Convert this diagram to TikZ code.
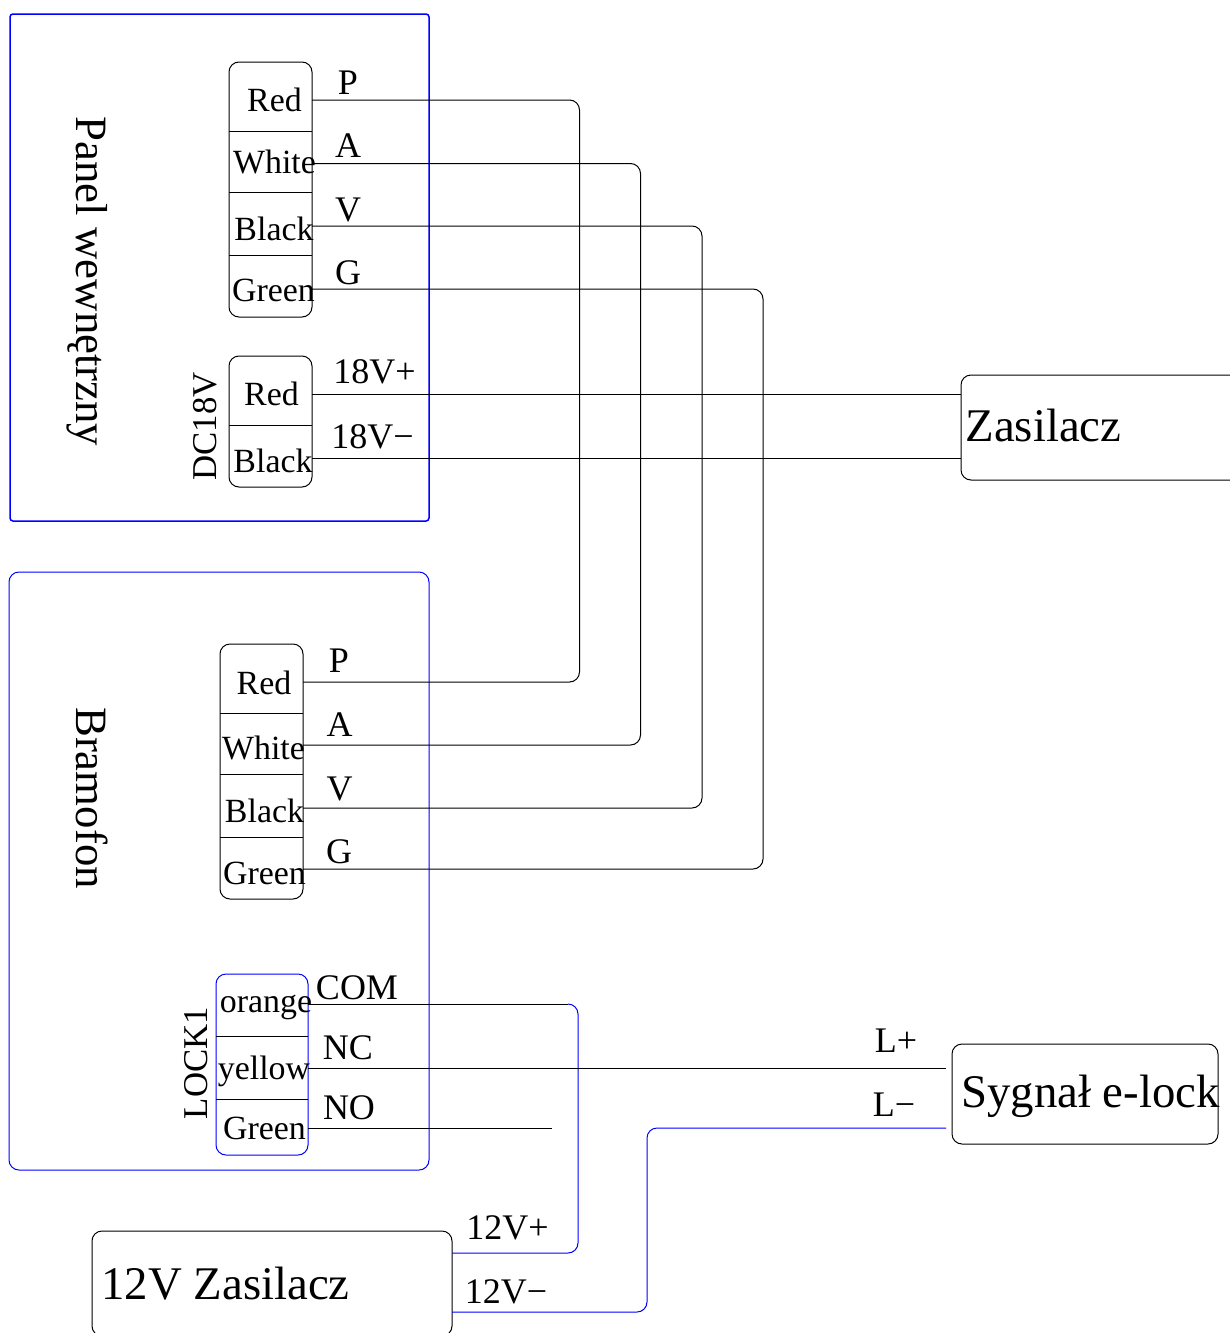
\documentclass[tikz,border=0pt]{standalone}
\usepackage{fontspec}
\setmainfont{Liberation Serif}
\definecolor{wblue}{RGB}{0,0,255}
\tikzset{
  x=1pt,y=-1pt,
  frameA/.style={draw=wblue,line width=1.5pt,rounded corners=3pt,inner sep=0pt,outer sep=0pt},
  frameB/.style={draw=wblue,line width=1pt,rounded corners=10pt,inner sep=0pt,outer sep=0pt},
  conbox/.style={draw=black,line width=1pt,rounded corners=10pt,inner sep=0pt,outer sep=0pt},
  pin/.style={inner sep=0pt,outer sep=0pt,minimum height=1pt},
  wire/.style={draw=black,line width=1pt,rounded corners=10pt},
  bwire/.style={draw=wblue,line width=1pt,rounded corners=10pt},
  sep/.style={draw=black,line width=1pt},
  lab/.style={inner sep=0pt,outer sep=0pt,anchor=base,font=\fontsize{33.9}{36}\selectfont},
  sig/.style={lab,font=\fontsize{36}{38}\selectfont},
  big/.style={lab,font=\fontsize{46.8}{50}\selectfont},
  side/.style={lab,font=\fontsize{44.8}{48}\selectfont,rotate=-90},
  vert/.style={lab,font=\fontsize{34.8}{38}\selectfont,rotate=90},
}
\begin{document}
\begin{tikzpicture}
\useasboundingbox (0,0) rectangle (1230,1333);
\clip (0,0) rectangle (1230,1333);
% frames
\node[frameA,minimum width=419pt,minimum height=507pt] (panel) at (219.5,267.5) {};
\node[frameB,minimum width=420pt,minimum height=598pt] (bram) at (219,871) {};
% terminal blocks
\node[conbox,minimum width=83pt,minimum height=255pt] (pblock) at (270.5,189.5) {};
\node[conbox,minimum width=83pt,minimum height=131pt] (dcblock) at (270.5,421.5) {};
\node[conbox,minimum width=83pt,minimum height=255pt] (bblock) at (261.5,771.5) {};
\node[frameB,minimum width=92pt,minimum height=181pt] (lblock) at (262,1064.5) {};
% external boxes
\node[conbox,minimum width=300pt,minimum height=105pt] (zas) at (1111,427.5) {};
\node[conbox,minimum width=266pt,minimum height=100pt] (sygn) at (1085,1094) {};
\node[conbox,minimum width=360pt,minimum height=105pt] (z12) at (272,1283.5) {};
% separators
\foreach \yy in {131,192,255} \draw[sep] (229,\yy) -- (312,\yy);
\draw[sep] (229,425) -- (312,425);
\foreach \yy in {713,774,837} \draw[sep] (220,\yy) -- (303,\yy);
\foreach \yy in {1036,1099} \draw[sep] (216,\yy) -- (308,\yy);
% pins
\foreach \nm/\yy in {pP/100,pA/163.5,pV/226,pG/289,dP/394.5,dM/458}
  \node[pin,minimum width=83pt] (\nm) at (270.5,\yy) {};
\foreach \nm/\yy in {bP/682,bA/745,bV/808,bG/869}
  \node[pin,minimum width=83pt] (\nm) at (261.5,\yy) {};
\foreach \nm/\yy in {lC/1004,lN/1068,lO/1128}
  \node[pin,minimum width=92pt] (\nm) at (262,\yy) {};
% free ends and routing points
\coordinate (rP) at (579.5,100);
\coordinate (rA) at (640.5,163.5);
\coordinate (rV) at (702,226);
\coordinate (rG) at (763,289);
\coordinate (comEnd) at (568,1004);
\coordinate (comCorner) at (578,1004);
\coordinate (z12p) at (452,1253);
\coordinate (z12m) at (452,1312);
\coordinate (lockRise) at (647,1128);
\coordinate (noEnd) at (552,1128);
\coordinate (lpEnd) at (946,1068);
\coordinate (lmEnd) at (946,1128);
% connectors
\draw[wire] (pP.east) -- (rP) -- (rP |- bP.east) -- (bP.east);
\draw[wire] (pA.east) -- (rA) -- (rA |- bA.east) -- (bA.east);
\draw[wire] (pV.east) -- (rV) -- (rV |- bV.east) -- (bV.east);
\draw[wire] (pG.east) -- (rG) -- (rG |- bG.east) -- (bG.east);
\draw[wire] (dP.east) -- (dP.east -| zas.west);
\draw[wire] (dM.east) -- (dM.east -| zas.west);
\draw[wire] (lC.east) -- (comEnd);
\draw[bwire] (comEnd) -- (comCorner) -- (comCorner |- z12p) -- (z12p);
\draw[wire] (lN.east) -- (lpEnd);
\draw[wire] (lO.east) -- (noEnd);
\draw[bwire] (z12m) -- (lockRise |- z12m) -- (lockRise) -- (lmEnd);
% labels
\node[side] (tPanel) at (76,281.5) {Panel wewnętrzny};
\node[side] (tBram) at (76,798) {Bramofon};
\node[vert] (tDC) at (216,426.5) {DC18V};
\node[vert] (tLock) at (207,1063) {LOCK1};
\node[lab] (t1) at (274.5,111.5) {Red};
\node[lab] (t2) at (274.5,173.5) {White};
\node[lab] (t3) at (274,240.5) {Black};
\node[lab] (t4) at (273.5,301) {Green};
\node[lab] (t5) at (271.5,405.5) {Red};
\node[lab] (t6) at (273,472.5) {Black};
\node[lab] (t7) at (264,694.5) {Red};
\node[lab] (t8) at (263.5,759.5) {White};
\node[lab] (t9) at (264.5,822.5) {Black};
\node[lab] (t10) at (264.5,884) {Green};
\node[lab] (t11) at (266,1012.5) {orange};
\node[lab] (t12) at (264,1079) {yellow};
\node[lab] (t13) at (264.5,1139) {Green};
\node[sig] (s1) at (348,94) {P};
\node[sig] (s2) at (348,157.5) {A};
\node[sig] (s3) at (348,221) {V};
\node[sig] (s4) at (348,284) {G};
\node[sig] (s5) at (374.5,383.5) {18V+};
\node[sig] (s6) at (372.5,448) {18V−};
\node[sig] (s7) at (339,672) {P};
\node[sig] (s8) at (339.5,736) {A};
\node[sig] (s9) at (339.5,800) {V};
\node[sig] (s10) at (339,863) {G};
\node[sig] (s11) at (357,999) {COM};
\node[sig] (s12) at (348,1059) {NC};
\node[sig] (s13) at (349,1119) {NO};
\node[sig] (s14) at (507.5,1239) {12V+};
\node[sig] (s15) at (506,1303) {12V−};
\node[sig] (s16) at (896,1052.5) {L+};
\node[sig] (s17) at (894,1116.5) {L−};
\node[big] (b1) at (1043.5,441) {Zasilacz};
\node[big] (b2) at (225.5,1299) {12V Zasilacz};
\node[big] (b3) at (1090.5,1107.5) {Sygnał e-lock};
\end{tikzpicture}
\end{document}
